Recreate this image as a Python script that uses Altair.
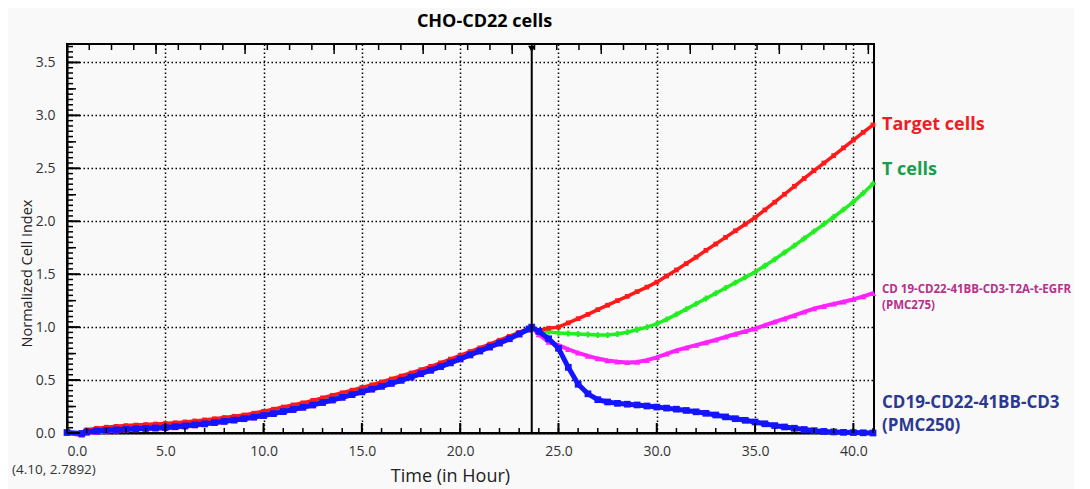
import altair as alt
import pandas as pd

# ---------------- data ----------------
TIMES = [0, 0.75, 1.0, 1.5, 2.0, 2.5, 3.0, 3.5, 4.0, 4.5, 5.0,
         5.5, 6.0, 6.5, 7.0, 7.5, 8.0, 8.5, 9.0, 9.5, 10.0,
         10.5, 11.0, 11.5, 12.0, 12.5, 13.0, 13.5, 14.0, 14.5, 15.0,
         15.5, 16.0, 16.5, 17.0, 17.5, 18.0, 18.5, 19.0, 19.5, 20.0,
         20.5, 21.0, 21.5, 22.0, 22.5, 23.0, 23.5, 23.64,
         24.0, 24.5, 25.0, 25.5, 26.0, 26.5, 27.0, 27.5, 28.0, 28.5, 29.0, 29.5, 30.0,
         30.5, 31.0, 31.5, 32.0, 32.5, 33.0, 33.5, 34.0, 34.5, 35.0,
         35.5, 36.0, 36.5, 37.0, 37.5, 38.0, 38.5, 39.0, 39.5, 40.0,
         40.5, 41.0]

TARGET_CELLS = [0.0, 0.0, 0.03, 0.045, 0.055, 0.063, 0.07, 0.075, 0.08, 0.085, 0.09,
                0.097, 0.105, 0.114, 0.124, 0.135, 0.146, 0.158, 0.17, 0.187, 0.205,
                0.225, 0.245, 0.265, 0.285, 0.308, 0.332, 0.356, 0.38, 0.405, 0.43,
                0.455, 0.482, 0.51, 0.538, 0.567, 0.598, 0.63, 0.663, 0.698, 0.734,
                0.769, 0.804, 0.84, 0.876, 0.913, 0.95, 0.99, 1.0,
                0.97, 0.99, 1.0, 1.04, 1.08, 1.12, 1.165, 1.207, 1.25, 1.29, 1.335, 1.378, 1.425,
                1.482, 1.54, 1.6, 1.66, 1.725, 1.785, 1.848, 1.91, 1.972, 2.035,
                2.107, 2.18, 2.255, 2.33, 2.404, 2.478, 2.55, 2.62, 2.693, 2.767,
                2.84, 2.91]

T_CELLS = [0.0, 0.0, 0.02, 0.03, 0.04, 0.047, 0.053, 0.058, 0.062, 0.066, 0.07,
           0.077, 0.085, 0.094, 0.104, 0.115, 0.127, 0.139, 0.152, 0.168, 0.185,
           0.203, 0.222, 0.242, 0.263, 0.285, 0.308, 0.332, 0.357, 0.382, 0.408,
           0.433, 0.46, 0.488, 0.517, 0.547, 0.578, 0.61, 0.644, 0.679, 0.716,
           0.752, 0.79, 0.826, 0.863, 0.9, 0.94, 0.985, 1.0,
           0.965, 0.955, 0.945, 0.94, 0.935, 0.93, 0.925, 0.925, 0.935, 0.952, 0.975, 1.0, 1.03,
           1.073, 1.12, 1.17, 1.22, 1.27, 1.32, 1.37, 1.42, 1.47, 1.52,
           1.58, 1.64, 1.705, 1.77, 1.837, 1.905, 1.972, 2.04, 2.11, 2.183,
           2.265, 2.355]

PMC275 = [0.0, -0.02, 0.0, 0.008, 0.015, 0.022, 0.028, 0.033, 0.037, 0.041, 0.045,
          0.052, 0.06, 0.07, 0.08, 0.092, 0.104, 0.117, 0.13, 0.145, 0.16,
          0.178, 0.197, 0.217, 0.238, 0.26, 0.284, 0.308, 0.333, 0.358, 0.384,
          0.41, 0.437, 0.465, 0.494, 0.524, 0.556, 0.589, 0.623, 0.658, 0.695,
          0.733, 0.77, 0.808, 0.845, 0.885, 0.93, 0.978, 1.0,
          0.93, 0.86, 0.83, 0.79, 0.757, 0.728, 0.703, 0.685, 0.673, 0.667, 0.67, 0.688, 0.715,
          0.748, 0.78, 0.806, 0.83, 0.855, 0.88, 0.908, 0.935, 0.96, 0.985,
          1.018, 1.05, 1.08, 1.11, 1.144, 1.175, 1.198, 1.22, 1.24, 1.262,
          1.29, 1.32]

PMC250 = [0.005, -0.005, 0.01, 0.018, 0.025, 0.03, 0.036, 0.04, 0.044, 0.048, 0.052,
          0.06, 0.068, 0.077, 0.087, 0.098, 0.11, 0.122, 0.135, 0.15, 0.165,
          0.183, 0.202, 0.222, 0.243, 0.265, 0.288, 0.312, 0.337, 0.362, 0.388,
          0.414, 0.441, 0.469, 0.498, 0.528, 0.56, 0.593, 0.627, 0.662, 0.7,
          0.738, 0.775, 0.812, 0.85, 0.89, 0.935, 0.982, 1.0,
          0.96, 0.89, 0.80, 0.62, 0.46, 0.37, 0.315, 0.293, 0.28, 0.272, 0.265, 0.255, 0.245,
          0.235, 0.225, 0.213, 0.2, 0.186, 0.17, 0.152, 0.135, 0.12, 0.104,
          0.087, 0.07, 0.057, 0.045, 0.033, 0.022, 0.015, 0.01, 0.006, 0.004,
          0.002, 0.0]

EVENT_TIME = [23.64]
CURSOR_TEXT = "(4.10, 2.7892)"

X_DOMAIN = [0, 41.05]
Y_DOMAIN = [0, 3.674]
X_MAJOR = [0, 5, 10, 15, 20, 25, 30, 35, 40]
Y_MAJOR = [0.0, 0.5, 1.0, 1.5, 2.0, 2.5, 3.0, 3.5]
X_MINOR = list(range(0, 42))
Y_MINOR = [round(i * 0.05, 2) for i in range(0, 74)]
Y_MID = [0.25, 0.75, 1.25, 1.75, 2.25, 2.75, 3.25]
TOP_MINOR = [round(i * 1.1323, 4) for i in range(0, 37)]
TOP_MAJOR = TOP_MINOR[::4]

PLOT_W, PLOT_H = 807, 389

series = {
    "Target cells": TARGET_CELLS,
    "T cells": T_CELLS,
    "PMC275": PMC275,
    "PMC250": PMC250,
}
for k, v in series.items():
    assert len(v) == len(TIMES), (k, len(v), len(TIMES))

rows = []
for name, vals in series.items():
    for t, v in zip(TIMES, vals):
        rows.append({"series": name, "t": t, "v": v})
df = pd.DataFrame(rows)
ev = pd.DataFrame({"t": EVENT_TIME})

FONT = "Open Sans"
xs = alt.Scale(domain=X_DOMAIN, nice=False, zero=False)
ys = alt.Scale(domain=Y_DOMAIN, nice=False, zero=False)


def X(axis=None):
    return alt.X("t:Q", scale=xs, axis=axis)


def Y(axis=None):
    return alt.Y("v:Q", scale=ys, axis=axis)


# axes: labels + dotted grid (ticks are drawn inward as rules below)
ghost = alt.Chart(df).mark_point(opacity=0)
label_axes = ghost.encode(
    x=X(alt.Axis(orient="bottom", values=X_MAJOR, format=".1f", ticks=False,
                 labelPadding=11, grid=True, domain=True,
                 title="Time (in Hour)", titleX=383, titleY=43,
                 titleBaseline="middle", titleFontSize=18)),
    y=Y(alt.Axis(orient="left", values=Y_MAJOR, format=".1f", ticks=False,
                 labelPadding=12, grid=True, domain=True,
                 title="Normalized Cell Index", titleX=-40, titleY=229,
                 titleAngle=270, titleBaseline="middle", titleFontSize=14.5)),
)


def x_ticks(values, length, width, top=False):
    d = pd.DataFrame({"t": values})
    y0, y1 = (0, length) if top else (PLOT_H, PLOT_H - length)
    return alt.Chart(d).mark_rule(color="black", strokeWidth=width).encode(
        x=X(None), y=alt.value(y0), y2=alt.value(y1))


def y_ticks(values, length, width):
    d = pd.DataFrame({"v": values})
    return alt.Chart(d).mark_rule(color="black", strokeWidth=width).encode(
        y=Y(None), x=alt.value(0), x2=alt.value(length))


tick_layers = [
    x_ticks(X_MINOR, 5, 1.5),
    x_ticks(X_MAJOR, 10, 2),
    x_ticks(TOP_MINOR, 6, 1.5, top=True),
    x_ticks(TOP_MAJOR, 10, 1.5, top=True),
    y_ticks(Y_MINOR, 6, 1.5),
    y_ticks(Y_MID, 9, 1.5),
    y_ticks(Y_MAJOR, 13, 2),
]

event_rule = alt.Chart(ev).mark_rule(color="black", strokeWidth=2).encode(x=X(None))
event_marker = alt.Chart(ev).mark_point(shape="triangle-down", filled=True, color="black",
                                        size=55, opacity=1).encode(x=X(None), y=alt.value(5))

styles = [
    ("T cells", "#22ee22", "cross", 34, 3.5),
    ("Target cells", "#ff1a1a", "square", 22, 3.5),
    ("PMC275", "#ff22ff", "triangle-up", 40, 4),
    ("PMC250", "#1414ff", "square", 45, 5),
]
data_layers = []
for name, color, shape, size, width in styles:
    sub = df[df["series"] == name]
    data_layers.append(alt.Chart(sub).mark_line(color=color, strokeWidth=width)
                       .encode(x=X(None), y=Y(None)))
    data_layers.append(alt.Chart(sub).mark_point(shape=shape, filled=True, color=color,
                                                 size=size, opacity=1)
                       .encode(x=X(None), y=Y(None)))

ends = df.groupby("series").tail(1)


def end_label(name, text, color, size, dy):
    sub = ends[ends["series"] == name]
    return alt.Chart(sub).mark_text(align="left", baseline="middle", dx=9, dy=dy,
                                    font=FONT, fontWeight="bold", fontSize=size,
                                    color=color).encode(x=X(None), y=Y(None),
                                                        text=alt.value(text))


labels = [
    end_label("Target cells", "Target cells", "#ee1c25", 18, 0),
    end_label("T cells", "T cells", "#16a04a", 18, -14),
    end_label("PMC275", "CD 19-CD22-41BB-CD3-T2A-t-EGFR", "#b8308a", 11.5, -3),
    end_label("PMC275", "(PMC275)", "#b8308a", 11.5, 13),
    end_label("PMC250", "CD19-CD22-41BB-CD3", "#2b3990", 17, -30),
    end_label("PMC250", "(PMC250)", "#2b3990", 17, -7),
]

cursor = alt.Chart(ev).mark_text(align="left", baseline="middle", font=FONT, fontSize=13.5,
                                 color="#333333").encode(x=alt.value(-55), y=alt.value(426),
                                                         text=alt.value(CURSOR_TEXT))

chart = alt.layer(
    label_axes, *data_layers, event_rule, *tick_layers, event_marker, *labels, cursor,
).resolve_axis(x="independent", y="independent").properties(
    width=PLOT_W, height=PLOT_H,
    autosize=alt.AutoSizeParams(type="none"),
    padding={"left": 59, "top": 36, "right": 200, "bottom": 56},
    background="#f9f9f9",
    title=alt.TitleParams("CHO-CD22 cells", font=FONT, fontSize=18, fontWeight="bold",
                          color="black", anchor="middle", dx=14, offset=12),
).configure_view(stroke="black", strokeWidth=2).configure_axis(
    labelFont=FONT, labelFontSize=14, labelColor="#333333",
    titleFont=FONT, titleColor="#222222", titleFontWeight="normal",
    domainColor="black", domainWidth=2,
    gridColor="black", gridDash=[1.5, 2.5], gridWidth=1.5, gridOpacity=1,
)

chart.save("out.html", embed_options={"renderer": "svg", "actions": False})
